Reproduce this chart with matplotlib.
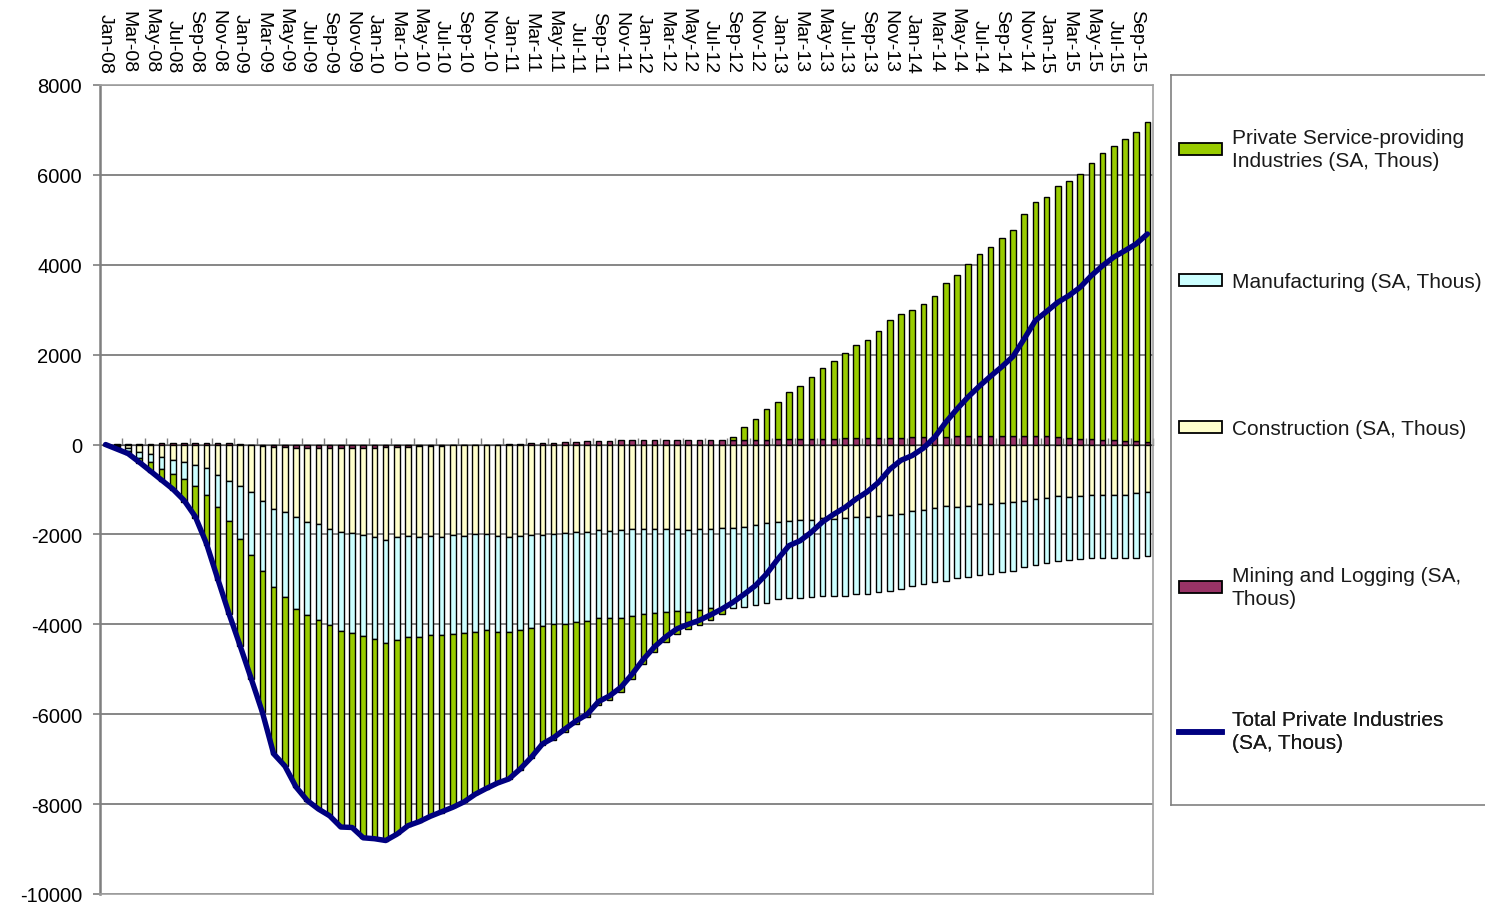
import matplotlib
matplotlib.use("Agg")
import matplotlib.pyplot as plt
import numpy as np
from matplotlib.patches import Patch
from matplotlib.lines import Line2D

plt.rcParams['font.family'] = ['Liberation Sans', 'DejaVu Sans']
plt.rcParams['axes.unicode_minus'] = False

# cumulative change since Jan-08, thousands, Jan-08 .. Oct-15
service = [0, -45, -70, -100, -215, -275, -365, -510, -725, -1120, -1635, -2085,
           -2375, -2760, -3155, -3720, -3765, -3960, -4120, -4215, -4235, -4365, -4335, -4495,
           -4445, -4405, -4325, -4200, -4115, -4025, -3965, -3855, -3755, -3615, -3520, -3350,
           -3265, -3110, -2895, -2665, -2575, -2395, -2275, -2155, -1940, -1815, -1630, -1390,
           -1115, -855, -675, -515, -395, -325, -255, -110, 50, 275, 460, 680,
           840, 1065, 1175, 1370, 1575, 1725, 1905, 2075, 2190, 2385, 2630, 2750,
           2835, 2965, 3145, 3415, 3595, 3840, 4055, 4215, 4400, 4580, 4930, 5205,
           5320, 5575, 5720, 5890, 6145, 6375, 6555, 6715, 6875, 7120]
manufacturing = [0, -30, -60, -135, -185, -260, -320, -385, -460, -595, -705, -890,
                 -1170, -1395, -1560, -1730, -1890, -2055, -2080, -2120, -2150, -2200, -2225, -2240,
                 -2265, -2280, -2280, -2250, -2225, -2205, -2180, -2195, -2170, -2165, -2140, -2135,
                 -2115, -2100, -2080, -2020, -2005, -2025, -2005, -1980, -1975, -1950, -1965, -1945,
                 -1890, -1875, -1840, -1820, -1825, -1815, -1770, -1800, -1780, -1795, -1780, -1780,
                 -1720, -1730, -1750, -1730, -1735, -1705, -1720, -1705, -1705, -1705, -1685, -1650,
                 -1670, -1655, -1645, -1655, -1590, -1575, -1575, -1540, -1530, -1520, -1460, -1470,
                 -1455, -1460, -1410, -1410, -1410, -1410, -1415, -1410, -1440, -1430]
construction = [0, -30, -80, -170, -210, -280, -335, -380, -455, -525, -675, -800,
                -930, -1040, -1210, -1375, -1430, -1530, -1640, -1690, -1790, -1860, -1880, -1940,
                -1990, -2060, -2010, -1990, -2010, -2010, -2025, -1990, -2010, -1990, -1990, -2040,
                -2065, -2025, -2010, -2010, -1990, -1965, -1935, -1935, -1890, -1915, -1900, -1875,
                -1875, -1875, -1875, -1875, -1890, -1875, -1875, -1860, -1860, -1825, -1790, -1745,
                -1715, -1690, -1670, -1670, -1640, -1655, -1640, -1620, -1620, -1580, -1565, -1555,
                -1470, -1445, -1415, -1375, -1385, -1370, -1330, -1330, -1300, -1285, -1265, -1210,
                -1185, -1135, -1160, -1135, -1115, -1115, -1115, -1115, -1085, -1060]
mining = [0, 5, 10, 15, 20, 25, 30, 35, 40, 40, 35, 25,
          5, -15, -35, -55, -65, -75, -80, -85, -85, -85, -80, -75,
          -70, -65, -55, -45, -40, -30, -25, -20, -15, -10, -5, 0,
          5, 15, 25, 35, 45, 55, 65, 75, 85, 90, 95, 100,
          105, 110, 110, 110, 110, 110, 110, 110, 110, 110, 110, 110,
          115, 115, 120, 125, 130, 130, 135, 140, 145, 150, 150, 155,
          160, 165, 170, 175, 180, 180, 185, 190, 190, 195, 195, 195,
          185, 170, 150, 130, 115, 105, 95, 85, 75, 65]
total = [0, -100, -200, -390, -590, -790, -990, -1240, -1600, -2200, -2980, -3750,
         -4470, -5210, -5960, -6880, -7150, -7620, -7920, -8110, -8260, -8510, -8520, -8750,
         -8770, -8810, -8670, -8480, -8390, -8270, -8170, -8070, -7950, -7780, -7650, -7530,
         -7440, -7220, -6960, -6660, -6520, -6330, -6150, -6000, -5720, -5590, -5400, -5110,
         -4780, -4500, -4280, -4100, -4000, -3910, -3790, -3660, -3510, -3330, -3140, -2880,
         -2550, -2250, -2140, -1950, -1720, -1550, -1400, -1210, -1050, -840, -550, -350,
         -245, -80, 160, 495, 790, 1060, 1300, 1520, 1730, 1960, 2350, 2760,
         2960, 3165, 3315, 3500, 3760, 3980, 4170, 4315, 4465, 4685]

month_names = ['Jan', 'Feb', 'Mar', 'Apr', 'May', 'Jun', 'Jul', 'Aug', 'Sep', 'Oct', 'Nov', 'Dec']
months = ['%s-%02d' % (m, y) for y in range(8, 16) for m in month_names][:len(total)]

labels = ['Private Service-providing\nIndustries (SA, Thous)', 'Manufacturing (SA, Thous)',
          'Construction (SA, Thous)', 'Mining and Logging (SA,\nThous)',
          'Total Private Industries\n(SA, Thous)']
colors = {'service': '#99CC00', 'manufacturing': '#CCFFFF', 'construction': '#FFFFCC',
          'mining': '#993366', 'total': '#000080'}

fig = plt.figure(figsize=(14.85, 9.04), dpi=100)
ax = fig.add_axes([100 / 1485, 1 - 895 / 904, 1053 / 1485, 809 / 904])

x = np.arange(len(total))
pos = np.zeros(len(x))
neg = np.zeros(len(x))
# excel-style stacking: positives up from zero, negatives down from zero
for vals, key in [(mining, 'mining'), (construction, 'construction'),
                  (manufacturing, 'manufacturing'), (service, 'service')]:
    v = np.array(vals, dtype=float)
    bottom = np.where(v >= 0, pos, neg)
    ax.bar(x, v, bottom=bottom, width=0.5, color=colors[key], edgecolor='black',
           linewidth=1.0, zorder=2)
    pos += np.clip(v, 0, None)
    neg += np.clip(v, None, 0)

ax.plot(x, total, color=colors['total'], linewidth=3.9, zorder=4, solid_capstyle='round')

ax.set_xlim(-0.5, len(x) - 0.5)
ax.set_ylim(-10000, 8000)
ax.set_yticks(np.arange(-10000, 8001, 2000))
ax.yaxis.grid(True, color='#666666', linewidth=1.1)
ax.set_axisbelow(True)
ax.tick_params(axis='y', labelsize=14.5, length=5, width=1.2, color='#7f7f7f', pad=8)

ax.set_xticks(x[::2])
ax.set_xticklabels(months[::2], rotation=270)
ax.tick_params(axis='x', which='major', top=True, labeltop=True, bottom=False,
               labelbottom=False, length=0, labelsize=14, pad=9)

for side in ['top', 'right', 'bottom']:
    ax.spines[side].set_color('#a0a0a0')
    ax.spines[side].set_linewidth(1.2)
ax.spines['left'].set_color('#7f7f7f')
ax.spines['left'].set_linewidth(1.8)

# category axis crossing at zero
zero_frac = (0 - ax.get_ylim()[0]) / (ax.get_ylim()[1] - ax.get_ylim()[0])
cat = ax.secondary_xaxis(zero_frac)
cat.set_xticks(np.arange(1.5, len(x), 2))
cat.set_xticklabels([])
cat.tick_params(length=5, width=1, color='#7f7f7f', direction='out')
cat.spines['bottom'].set_color('#555555')
cat.spines['bottom'].set_linewidth(1.3)
cat.spines['bottom'].set_zorder(3)

# legend panel
lax = fig.add_axes([1171 / 1485, 1 - 806 / 904, 0.24, 730 / 904])
lax.set_xticks([])
lax.set_yticks([])
lax.set_xlim(0, 1)
lax.set_ylim(0, 1)
for side in lax.spines.values():
    side.set_color('#808080')
    side.set_linewidth(1.2)

handles = [Patch(facecolor=colors['service'], edgecolor='black', linewidth=1.3),
           Patch(facecolor=colors['manufacturing'], edgecolor='black', linewidth=1.3),
           Patch(facecolor=colors['construction'], edgecolor='black', linewidth=1.3),
           Patch(facecolor=colors['mining'], edgecolor='black', linewidth=1.3),
           Line2D([], [], color=colors['total'], linewidth=4)]
entry_y = [138, 283, 430, 576, 720]
for h, lab, yp in zip(handles, labels, entry_y):
    nlines = lab.count('\n') + 1
    yc = 1 - (yp - 76 + (nlines - 1) * 12) / 730
    leg = lax.legend([h], [lab], loc='center left', bbox_to_anchor=(0.01, yc),
                     frameon=False, fontsize=15, handlelength=2.1, handleheight=0.5,
                     handletextpad=0.45, borderaxespad=0, borderpad=0.2)
    for t in leg.get_texts():
        t.set_linespacing(1.3)
        t.set_color('#1a1a1a')
    lax.add_artist(leg)

fig.savefig('out.png', dpi=100)
